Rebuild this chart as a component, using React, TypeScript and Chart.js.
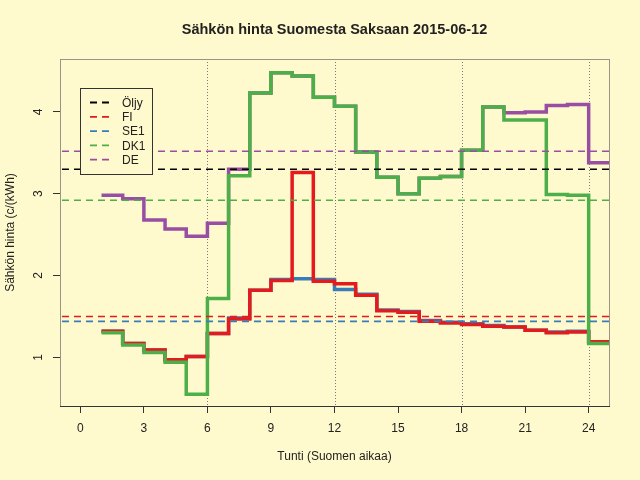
import { useEffect, useRef } from "react"
import { Chart, registerables } from "chart.js"

Chart.register(...registerables)

// Tunnit ja hinnat (c/kWh) luettuna kuvasta
const hours = [1, 2, 3, 4, 5, 6, 7, 8, 9, 10, 11, 12, 13, 14, 15, 16, 17, 18, 19, 20, 21, 22, 23, 24]
const fi = [1.32, 1.17, 1.09, 0.97, 1.01, 1.29, 1.47, 1.82, 1.94, 3.26, 1.93, 1.9, 1.76, 1.57, 1.55, 1.44, 1.42, 1.4, 1.38, 1.37, 1.33, 1.3, 1.31, 1.19]
const se1 = [1.32, 1.17, 1.09, 0.97, 1.01, 1.29, 1.48, 1.82, 1.95, 1.96, 1.95, 1.83, 1.77, 1.58, 1.56, 1.45, 1.43, 1.41, 1.39, 1.37, 1.33, 1.31, 1.32, 1.19]
const dk1 = [1.3, 1.15, 1.06, 0.94, 0.55, 1.72, 3.22, 4.23, 4.48, 4.44, 4.18, 4.07, 3.51, 3.2, 3.0, 3.19, 3.21, 3.53, 4.06, 3.9, 3.9, 2.99, 2.98, 1.17]
const de = [2.98, 2.94, 2.68, 2.57, 2.48, 2.64, 3.3, 4.23, 4.48, 4.44, 4.18, 4.07, 3.51, 3.2, 3.0, 3.19, 3.21, 3.53, 4.06, 3.99, 4.0, 4.08, 4.09, 3.38]

// Keskiarvot (katkoviivat) ja selite
const avgNames = ["Öljy", "FI", "SE1", "DK1", "DE"]
const avgValues = [3.3, 1.5, 1.44, 2.92, 3.52]
const avgColors = ["#000000", "#E41A1C", "#377EB8", "#4DAF4A", "#984EA3"]

const xTicks = [0, 3, 6, 9, 12, 15, 18, 21, 24]
const yTicks = [1, 2, 3, 4]
const guideHours = [6, 12, 18, 24]

const title = "Sähkön hinta Suomesta Saksaan 2015-06-12"
const xTitle = "Tunti (Suomen aikaa)"
const yTitle = "Sähkön hinta (c/(kWh)"

const FONT = '"Liberation Sans", Arial, Helvetica, sans-serif'
const TEXT = "#222222"

// Porrasviiva: viimeinen arvo jatkuu seuraavaan tuntiin
function steps(values: number[]) {
  const pts = hours.map((h, i) => ({ x: h, y: values[i] }))
  pts.push({ x: hours[hours.length - 1] + 1, y: values[values.length - 1] })
  return pts
}

const decorations = {
  id: "decorations",
  beforeDatasetsDraw(chart: Chart) {
    const { ctx, chartArea } = chart
    const x = chart.scales.x
    ctx.save()
    ctx.strokeStyle = "#7a7a7a"
    ctx.lineWidth = 1
    ctx.setLineDash([1, 2])
    guideHours.forEach((h) => {
      const px = Math.round(x.getPixelForValue(h)) + 0.5
      ctx.beginPath()
      ctx.moveTo(px, chartArea.top)
      ctx.lineTo(px, chartArea.bottom)
      ctx.stroke()
    })
    ctx.restore()
  },
  afterDraw(chart: Chart) {
    const { ctx, chartArea } = chart
    const y = chart.scales.y
    ctx.save()

    // kehys
    ctx.strokeStyle = "#9a9484"
    ctx.lineWidth = 1
    ctx.strokeRect(chartArea.left + 0.5, chartArea.top + 0.5, chartArea.right - chartArea.left, chartArea.bottom - chartArea.top)
    ctx.strokeStyle = "#333333"
    ctx.beginPath()
    ctx.moveTo(chartArea.left, chartArea.bottom + 0.5)
    ctx.lineTo(chartArea.right + 1, chartArea.bottom + 0.5)
    ctx.stroke()

    ctx.fillStyle = TEXT
    ctx.textAlign = "center"
    ctx.textBaseline = "middle"

    // y-akselin luvut pystyssä
    ctx.font = `12px ${FONT}`
    yTicks.forEach((v) => {
      ctx.save()
      ctx.translate(chartArea.left - 21, y.getPixelForValue(v))
      ctx.rotate(-Math.PI / 2)
      ctx.fillText(String(v), 0, 0)
      ctx.restore()
    })

    const cx = (chartArea.left + chartArea.right) / 2
    const cy = (chartArea.top + chartArea.bottom) / 2

    ctx.fillText(xTitle, cx, 457)
    ctx.save()
    ctx.translate(11, cy)
    ctx.rotate(-Math.PI / 2)
    ctx.fillText(yTitle, 0, 0)
    ctx.restore()

    ctx.font = `bold 14.5px ${FONT}`
    ctx.fillText(title, cx, 30)

    // selite
    const bx = chartArea.left + 20
    const by = chartArea.top + 29
    ctx.fillStyle = "#FFFACD"
    ctx.fillRect(bx, by, 72, 86)
    ctx.strokeStyle = "#333333"
    ctx.strokeRect(bx + 0.5, by + 0.5, 72, 86)
    ctx.font = `12px ${FONT}`
    ctx.textAlign = "left"
    avgNames.forEach((name, i) => {
      const ry = by + 14.5 + i * 14.3
      ctx.strokeStyle = avgColors[i]
      ctx.lineWidth = 1.8
      ctx.setLineDash([7, 5])
      ctx.beginPath()
      ctx.moveTo(bx + 10, ry)
      ctx.lineTo(bx + 29, ry)
      ctx.stroke()
      ctx.setLineDash([])
      ctx.fillStyle = TEXT
      ctx.fillText(name, bx + 42, ry + 1)
    })

    ctx.restore()
  },
}

export default function App() {
  const chartRef = useRef<HTMLCanvasElement>(null)
  const chartInstance = useRef<Chart | null>(null)

  useEffect(() => {
    document.body.style.margin = "0"
    if (!chartRef.current) return
    if (chartInstance.current) chartInstance.current.destroy()

    const stepSet = (label: string, values: number[], color: string, order: number) => ({
      label,
      data: steps(values),
      borderColor: color,
      backgroundColor: color,
      borderWidth: 3.5,
      pointRadius: 0,
      stepped: "before" as const,
      fill: false,
      clip: 0,
      order,
    })

    const avgSets = avgNames.map((name, i) => ({
      label: name + " ka",
      data: [
        { x: -2, y: avgValues[i] },
        { x: 27, y: avgValues[i] },
      ],
      borderColor: avgColors[i],
      borderWidth: 1.6,
      borderDash: [7, 5],
      pointRadius: 0,
      fill: false,
      clip: 0,
      order: -1,
    }))

    chartInstance.current = new Chart(chartRef.current, {
      type: "line",
      data: {
        datasets: [
          stepSet("DE", de, "#984EA3", 3),
          stepSet("SE1", se1, "#377EB8", 2),
          stepSet("FI", fi, "#E41A1C", 1),
          stepSet("DK1", dk1, "#4DAF4A", 0),
          ...avgSets,
        ],
      },
      options: {
        responsive: false,
        animation: false,
        layout: { padding: { left: 0, top: 59, right: 31, bottom: 0 } },
        plugins: {
          legend: { display: false },
          title: { display: false },
          tooltip: { enabled: false },
        },
        scales: {
          x: {
            type: "linear",
            min: -0.96,
            max: 24.96,
            afterBuildTicks: (s: any) => {
              s.ticks = xTicks.map((v) => ({ value: v }))
            },
            afterFit: (s: any) => {
              s.height = 74
            },
            grid: { drawOnChartArea: false, tickLength: 7, tickColor: "#333333", color: "#333333" },
            border: { display: false },
            ticks: { color: TEXT, font: { family: FONT, size: 12 }, padding: 8, maxRotation: 0, autoSkip: false },
          },
          y: {
            type: "linear",
            min: 0.405,
            max: 4.647,
            afterBuildTicks: (s: any) => {
              s.ticks = yTicks.map((v) => ({ value: v }))
            },
            afterFit: (s: any) => {
              s.width = 60
            },
            grid: { drawOnChartArea: false, tickLength: 7, tickColor: "#333333", color: "#333333" },
            border: { display: false },
            ticks: { display: false },
          },
        },
      },
      plugins: [decorations],
    })

    return () => {
      if (chartInstance.current) {
        chartInstance.current.destroy()
        chartInstance.current = null
      }
    }
  }, [])

  return (
    <div style={{ width: 640, height: 480, background: "#FFFACD" }}>
      <canvas ref={chartRef} width={640} height={480}></canvas>
    </div>
  )
}
